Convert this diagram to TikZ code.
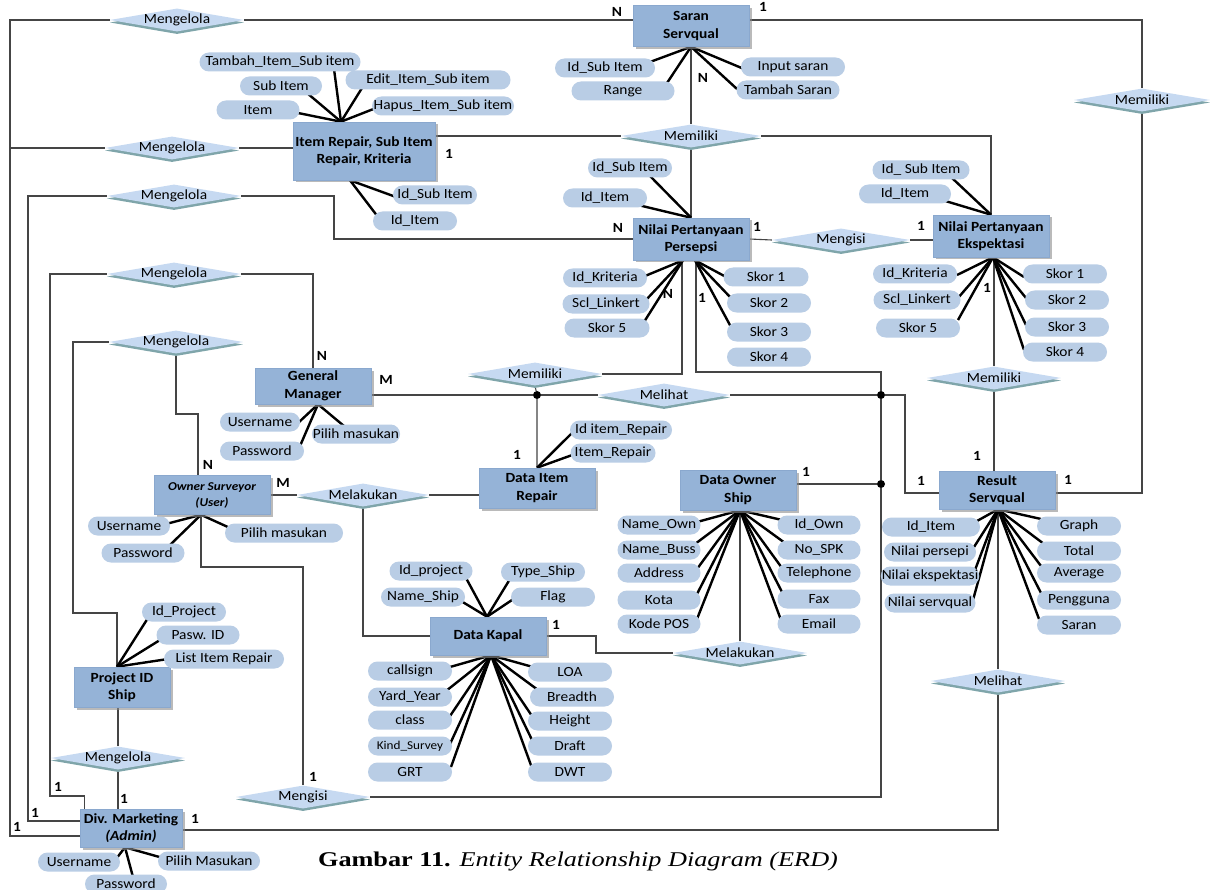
\documentclass[tikz,border=0pt]{standalone}
\usepackage{fontspec}
\setmainfont{Carlito}[FakeStretch=1.1]
\newfontfamily\capfont{Liberation Serif}[FakeStretch=1.25]
\usetikzlibrary{shapes.geometric,shadows,backgrounds,calc}

\definecolor{entfill}{HTML}{95B3D7}
\definecolor{entline}{HTML}{8AA8CE}
\definecolor{attfill}{HTML}{B9CDE5}
\definecolor{relfill}{HTML}{C6D9F1}
\definecolor{relshade}{HTML}{7FA5AA}
\definecolor{wirecol}{HTML}{454545}

\begin{document}
\begin{tikzpicture}[x=1pt,y=-1pt,
  ent/.style={rectangle, fill=entfill, draw=entline, line width=0.6pt,
    minimum width=116pt, minimum height=40pt, inner sep=1pt, align=center,
    font=\fontsize{14}{17.5}\selectfont\bfseries,
    drop shadow={shadow xshift=2.5pt, shadow yshift=-2.5pt, fill=black!45, opacity=0.6}},
  rel/.style={diamond, aspect=5.8, fill=relfill, minimum width=134pt, minimum height=23pt,
    inner sep=-3.5pt, font=\fontsize{14}{15}\selectfont,
    drop shadow={shadow xshift=0pt, shadow yshift=-2.5pt, fill=relshade, opacity=1}},
  att/.style={rectangle, rounded corners=9.5pt, fill=attfill, minimum height=19pt,
    minimum width=84pt, inner sep=1pt, font=\fontsize{14}{15}\selectfont},
  wire/.style={draw=wirecol, line width=1.1pt},
  spoke/.style={draw=black, line width=2.4pt},
  card/.style={font=\fontsize{14}{15}\selectfont\bfseries, inner sep=0pt},
  jn/.style={circle, fill=black, inner sep=0pt, minimum size=8pt}
]
\useasboundingbox (0,0) rectangle (1214,890);

% ---------- entities ----------
\node[ent, minimum height=41pt] (sar) at (691,26) {Saran\\Servqual};
\node[ent, minimum width=142pt, minimum height=58pt] (irk) at (364,151) {Item Repair, Sub Item\\Repair, Kriteria};
\node[ent, minimum height=42pt] (per) at (691,239) {Nilai Pertanyaan\\Persepsi};
\node[ent, minimum height=42pt] (eks) at (991,236) {Nilai Pertanyaan\\Ekspektasi};
\node[ent, minimum height=36pt] (gm) at (313,386) {General\\Manager};
\node[ent, minimum height=39pt, font=\fontsize{12}{16}\selectfont\bfseries\itshape] (own) at (212,495) {Owner Surveyor\\(User)};
\node[ent] (dir) at (537,488) {Data Item\\Repair};
\node[ent] (dos) at (738,490) {Data Owner\\Ship};
\node[ent, minimum height=38pt] (res) at (997,490) {Result\\Servqual};
\node[ent, minimum height=38pt] (kap) at (488,636) {Data Kapal};
\node[ent, minimum width=96pt] (pid) at (122,687) {Project ID\\Ship};
\node[ent, minimum width=102pt, minimum height=38pt] (div) at (131,828) {Div. Marketing\\\textit{(Admin)}};

% ---------- relationships ----------
\node[rel] (r1) at (177,20) {Mengelola};
\node[rel] (r2) at (172,148) {Mengelola};
\node[rel] (r3) at (174,196) {Mengelola};
\node[rel] (r4) at (174,274) {Mengelola};
\node[rel] (r5) at (176,342) {Mengelola};
\node[rel] (r6) at (118,758) {Mengelola};
\node[rel, minimum width=140pt] (m1) at (691,136) {Memiliki};
\node[rel, minimum width=136pt] (m2) at (1142,100) {Memiliki};
\node[rel, minimum width=138pt] (mi1) at (841,240) {Mengisi};
\node[rel] (m3) at (535,374) {Memiliki};
\node[rel, minimum width=132pt] (ml1) at (664,395) {Melihat};
\node[rel] (m4) at (994,378) {Memiliki};
\node[rel, minimum width=132pt] (mk1) at (363,495) {Melakukan};
\node[rel] (mk2) at (740,653) {Melakukan};
\node[rel] (ml2) at (998,681) {Melihat};
\node[rel] (mi2) at (303,797) {Mengisi};

% ---------- junction dots ----------
\node[jn] (j1) at (537,395) {};
\node[jn] (j2) at (881,395) {};
\node[jn] (j3) at (881,484) {};

% ---------- attributes ----------
\node[att, minimum width=100pt] (sa1) at (605,68) {Id\_Sub Item};
\node[att, minimum width=103pt] (sa2) at (623,91) {Range};
\node[att, minimum width=104pt] (sa3) at (793,67) {Input saran};
\node[att, minimum width=103pt] (sa4) at (788,90) {Tambah Saran};

\node[att, minimum width=161pt] (it1) at (280,62) {Tambah\_Item\_Sub item};
\node[att, minimum width=82pt] (it2) at (281,86) {Sub Item};
\node[att, minimum width=83pt] (it3) at (258,110) {Item};
\node[att, minimum width=165pt] (it4) at (428,80) {Edit\_Item\_Sub item};
\node[att, minimum width=142pt] (it5) at (443,106) {Hapus\_Item\_Sub item};
\node[att] (ib1) at (435,195) {Id\_Sub Item};
\node[att] (ib2) at (415,221) {Id\_Item};

\node[att] (pt1) at (630,168) {Id\_Sub Item};
\node[att] (pt2) at (605,198) {Id\_Item};
\node[att] (pb1) at (605,278) {Id\_Kriteria};
\node[att, minimum width=87pt] (pb2) at (606,304) {Scl\_Linkert};
\node[att, minimum width=85pt] (pb3) at (607,328) {Skor 5};
\node[att, minimum width=85pt] (pr1) at (766,277) {Skor 1};
\node[att] (pr2) at (769,303) {Skor 2};
\node[att] (pr3) at (769,332) {Skor 3};
\node[att] (pr4) at (769,357) {Skor 4};

\node[att, minimum width=97pt] (et1) at (921,170) {Id\_ Sub Item};
\node[att, minimum width=92pt] (et2) at (905,194) {Id\_Item};
\node[att] (eb1) at (915,274) {Id\_Kriteria};
\node[att, minimum width=87pt] (eb2) at (917,300) {Scl\_Linkert};
\node[att] (eb3) at (918,328) {Skor 5};
\node[att] (er1) at (1065,274) {Skor 1};
\node[att] (er2) at (1067,300) {Skor 2};
\node[att] (er3) at (1067,327) {Skor 3};
\node[att] (er4) at (1065,352) {Skor 4};

\node[att, minimum width=80pt] (g1) at (260,422) {Username};
\node[att] (g2) at (262,451) {Password};
\node[att, minimum width=88pt] (g3) at (356,434) {Pilih masukan};

\node[att, minimum width=82pt] (o1) at (129,526) {Username};
\node[att, minimum width=83pt] (o2) at (143,553) {Password};
\node[att, minimum width=118pt] (o3) at (284,533) {Pilih masukan};

\node[att, minimum width=102pt] (d1) at (621,430) {Id item\_Repair};
\node[att, minimum width=85pt] (d2) at (613,453) {Item\_Repair};

\node[att, minimum width=83pt] (n1) at (659,525) {Name\_Own};
\node[att, minimum width=83pt] (n2) at (659,550) {Name\_Buss};
\node[att, minimum width=83pt] (n3) at (659,573) {Address};
\node[att, minimum width=83pt] (n4) at (659,600) {Kota};
\node[att, minimum width=83pt] (n5) at (659,624) {Kode POS};
\node[att, minimum width=83pt] (q1) at (819,525) {Id\_Own};
\node[att, minimum width=83pt] (q2) at (819,550) {No\_SPK};
\node[att, minimum width=83pt] (q3) at (819,573) {Telephone};
\node[att, minimum width=83pt] (q4) at (819,599) {Fax};
\node[att, minimum width=83pt] (q5) at (819,624) {Email};

\node[att, minimum width=98pt] (s1) at (931,527) {Id\_Item};
\node[att, minimum width=92pt] (s2) at (930,552) {Nilai persepi};
\node[att, minimum width=92pt] (s3) at (930,576) {Nilai ekspektasi};
\node[att, minimum width=91pt] (s4) at (930,603) {Nilai servqual};
\node[att] (s5) at (1079,526) {Graph};
\node[att] (s6) at (1079,551) {Total};
\node[att] (s7) at (1079,573) {Average};
\node[att] (s8) at (1079,600) {Pengguna};
\node[att] (s9) at (1079,625) {Saran};

\node[att, minimum width=83pt] (k1) at (431,571) {Id\_project};
\node[att] (k2) at (423,597) {Name\_Ship};
\node[att] (k3) at (543,572) {Type\_Ship};
\node[att] (k4) at (553,597) {Flag};
\node[att] (k5) at (410,671) {callsign};
\node[att] (k6) at (410,697) {Yard\_Year};
\node[att] (k7) at (410,720) {class};
\node[att, font=\fontsize{12}{13}\selectfont] (k8) at (410,746) {Kind\_Survey};
\node[att] (k9) at (410,772) {GRT};
\node[att] (k10) at (570,672) {LOA};
\node[att] (k11) at (572,697) {Breadth};
\node[att] (k12) at (570,721) {Height};
\node[att] (k13) at (570,746) {Draft};
\node[att] (k14) at (570,772) {DWT};

\node[att] (p1) at (184,612) {Id\_Project};
\node[att, minimum width=83pt] (p2) at (198,635) {Pasw. ID};
\node[att, minimum width=120pt] (p3) at (224,659) {List Item Repair};

\node[att, minimum width=82pt] (v1) at (79,862) {Username};
\node[att, minimum width=82pt] (v2) at (126,884) {Password};
\node[att, minimum width=102pt] (v3) at (209,861) {Pilih Masukan};

% ---------- cardinalities ----------
\node[card] (c1) at (617,12) {N};
\node[card] (c2) at (763,7) {1};
\node[card] (c3) at (703,78) {N};
\node[card] (c4) at (449,154) {1};
\node[card] (c5) at (618,228) {N};
\node[card] (c6) at (757,227) {1};
\node[card] (c7) at (921,226) {1};
\node[card] (c8) at (668,294) {N};
\node[card] (c9) at (702,298) {1};
\node[card] (c10) at (987,288) {1};
\node[card] (c11) at (322,356) {N};
\node[card] (c12) at (386,380) {M};
\node[card] (c13) at (208,465) {N};
\node[card] (c14) at (283,483) {M};
\node[card] (c15) at (517,455) {1};
\node[card] (c16) at (806,472) {1};
\node[card] (c17) at (977,456) {1};
\node[card] (c18) at (921,481) {1};
\node[card] (c19) at (1068,480) {1};
\node[card] (c20) at (556,625) {1};
\node[card] (c21) at (313,777) {1};
\node[card] (c22) at (58,787) {1};
\node[card] (c23) at (35,813) {1};
\node[card] (c24) at (17,827) {1};
\node[card] (c25) at (124,799) {1};
\node[card] (c26) at (195,819) {1};

% ---------- caption ----------
\node[font=\capfont\fontsize{21}{24}\selectfont, inner sep=0pt] (cap) at (578,861)
  {\textbf{Gambar 11.} \textit{Entity Relationship Diagram (ERD)}};

% ---------- connection points ----------
\coordinate (dA) at ([yshift=-8pt]div.west);
\coordinate (dB) at ([yshift=7pt]div.west);
\coordinate (dC) at ([xshift=5pt]div.north west);
\coordinate (dE) at ([yshift=-2pt]div.east);
\coordinate (pN) at ([xshift=-5pt]pid.north);
\coordinate (oN) at ([xshift=-14pt]own.north);
\coordinate (oB) at ([xshift=-11pt]own.south);
\coordinate (rE) at ([yshift=-3pt]res.east);
\coordinate (rW) at ([yshift=-3pt]res.west);
\coordinate (gE) at ([yshift=-9pt]gm.east);
\coordinate (pL) at ([xshift=-9pt]per.south);
\coordinate (pR) at ([xshift=5pt]per.south);
\coordinate (dsE) at ([yshift=6pt]dos.east);
\coordinate (t2) at (10,148);
\coordinate (kB) at (596,636);
\coordinate (oK) at (303,567);
\coordinate (pK) at (881,372);
\coordinate (mB) at (905,395);

\coordinate (hS) at (sar.south);
\coordinate (hIT) at ([xshift=-23pt]irk.north);
\coordinate (hIB) at ([xshift=-14pt]irk.south);
\coordinate (hPT) at (per.north);
\coordinate (hPL) at ([xshift=-8pt]per.south);
\coordinate (hPR) at ([xshift=4pt]per.south);
\coordinate (hET) at (eks.north);
\coordinate (hEB) at ([xshift=2pt]eks.south);
\coordinate (hG) at ([xshift=5pt]gm.south);
\coordinate (hO) at ([xshift=-11pt]own.south);
\coordinate (hD) at (dir.north);
\coordinate (hDS) at ([xshift=2pt]dos.south);
\coordinate (hR) at ([xshift=1pt]res.south);
\coordinate (hKT) at ([xshift=-1pt]kap.north);
\coordinate (hKB) at ([xshift=3pt]kap.south);
\coordinate (hP) at ([xshift=-5pt]pid.north);
\coordinate (hV) at ([xshift=-6pt]div.south);

\begin{pgfonlayer}{background}
  \fill[white] (0,0) rectangle (1214,890);

  % relationship wiring
  \draw[wire] (r1.west) -| (10,836) -- (dA);
  \draw[wire] (r1.east) -- (r1.east -| sar.west);
  \draw[wire] (r1.east -| sar.east) -| (m2.north);
  \draw[wire] (m2.south) |- (rE);
  \draw[wire] (r2.west) -- (t2);
  \draw[wire] (r2.east) -- (r2.east -| irk.west);
  \draw[wire] (r3.west) -| (28,821) -- (dB);
  \draw[wire] (r3.east) -- (334,196) |- (per.west);
  \draw[wire] (r4.west) -| (50,796) -| (dC);
  \draw[wire] (r4.east) -| (gm.north);
  \draw[wire] (r5.west) -| (73,613) -| (pN);
  \draw[wire] (r5.south) |- (198,414) -- (oN);
  \draw[wire] (r6.north |- pid.south) -- (r6.north);
  \draw[wire] (r6.south) -- (r6.south |- div.north);
  \draw[wire] (sar.south) -- (m1.north);
  \draw[wire] (m1.south) -- (per.north);
  \draw[wire] (m1.west) -- (m1.west -| irk.east);
  \draw[wire] (m1.east) -| (eks.north);
  \draw[wire] (per.east) -- (mi1.west);
  \draw[wire] (mi1.east) -- (mi1.east -| eks.west);
  \draw[wire] (m4.north |- eks.south) -- (m4.north);
  \draw[wire] (m4.south) -- (m4.south |- res.north);
  \draw[wire] (ml2.north |- res.south) -- (ml2.north);
  \draw[wire] (ml2.south) |- (dE);
  \draw[wire] (gE) -- (j1) -- (ml1.west);
  \draw[wire] (m3.south) -- (j1) -- (dir.north);
  \draw[wire] (m3.east) -| (pL);
  \draw[wire] (pR) |- (pK) -- (j2) -- (j3) |- (mi2.east);
  \draw[wire] (ml1.east) -- (j2) -- (mB) |- (rW);
  \draw[wire] (dsE) -- (j3);
  \draw[wire] (own.east) -- (mk1.west);
  \draw[wire] (mk1.east) -- (mk1.east -| dir.west);
  \draw[wire] (mk1.south) |- (kap.west);
  \draw[wire] (kap.east) -- (kB) |- (mk2.west);
  \draw[wire] (mk2.north) -- (mk2.north |- dos.south);
  \draw[wire] (oB) |- (oK) -- (mi2.north);

  % attribute spokes
  \foreach \a/\dx/\dy in {sa1/45/-6, sa2/44/-8, sa3/-49/2, sa4/-51/-1}
    \draw[spoke] (hS) -- ($(\a)+(\dx,\dy)$);
  \foreach \a/\dx/\dy in {it1/54/7, it2/26/7, it3/40/3, it4/-66/8, it5/-67/2}
    \draw[spoke] (hIT) -- ($(\a)+(\dx,\dy)$);
  \foreach \a/\dx/\dy in {ib1/-39/2, ib2/-37/-4}
    \draw[spoke] (hIB) -- ($(\a)+(\dx,\dy)$);
  \foreach \a/\dx/\dy in {pt1/20/8, pt2/33/7}
    \draw[spoke] (hPT) -- ($(\a)+(\dx,\dy)$);
  \foreach \a/\dx/\dy in {pb1/40/-2, pb2/40/-4, pb3/37/-6}
    \draw[spoke] (hPL) -- ($(\a)+(\dx,\dy)$);
  \foreach \a/\dx/\dy in {pr1/-38/1, pr2/-38/-5, pr3/-38/-5}
    \draw[spoke] (hPR) -- ($(\a)+(\dx,\dy)$);
  \foreach \a/\dx/\dy in {et1/31/8, et2/37/6}
    \draw[spoke] (hET) -- ($(\a)+(\dx,\dy)$);
  \foreach \a/\dx/\dy in {eb1/42/1, eb2/41/-2, eb3/40/-8, er1/-41/3, er2/-41/-2, er3/-41/-2, er4/-41/-2}
    \draw[spoke] (hEB) -- ($(\a)+(\dx,\dy)$);
  \foreach \a/\dx/\dy in {g1/38/1, g2/38/-5, g3/-12/-8}
    \draw[spoke] (hG) -- ($(\a)+(\dx,\dy)$);
  \foreach \a/\dx/\dy in {o1/37/-2, o2/27/-8, o3/-54/-5}
    \draw[spoke] (hO) -- ($(\a)+(\dx,\dy)$);
  \foreach \a/\dx/\dy in {d1/-49/3, d2/-38/1}
    \draw[spoke] (hD) -- ($(\a)+(\dx,\dy)$);
  \foreach \a/\dx/\dy in {n1/38/-3, n2/36/-6, n3/38/-4, n4/38/-6, n5/38/-5, q1/-37/-5, q2/-34/-7, q3/-37/-5, q4/-37/-7, q5/-38/-4}
    \draw[spoke] (hDS) -- ($(\a)+(\dx,\dy)$);
  \foreach \a/\dx/\dy in {s1/46/-6, s2/44/-5, s3/45/-6, s4/43/-3, s5/-38/-7, s6/-35/-7, s7/-38/-7, s8/-38/-7, s9/-40/-6}
    \draw[spoke] (hR) -- ($(\a)+(\dx,\dy)$);
  \foreach \a/\dx/\dy in {k1/35/7, k2/38/4, k3/-33/7, k4/-38/1}
    \draw[spoke] (hKT) -- ($(\a)+(\dx,\dy)$);
  \foreach \a/\dx/\dy in {k5/40/-4, k6/36/-6, k7/40/-4, k8/40/-2, k9/41/-5, k10/-37/-5, k11/-34/-7, k12/-38/-5, k13/-37/-4, k14/-38/-4}
    \draw[spoke] (hKB) -- ($(\a)+(\dx,\dy)$);
  \foreach \a/\dx/\dy in {p1/-36/6, p2/-38/5, p3/-56/0}
    \draw[spoke] (hP) -- ($(\a)+(\dx,\dy)$);
  \foreach \a/\dx/\dy in {v1/37/-3, v2/7/-7, v3/-46/-3}
    \draw[spoke] (hV) -- ($(\a)+(\dx,\dy)$);
\end{pgfonlayer}
\end{tikzpicture}
\end{document}
